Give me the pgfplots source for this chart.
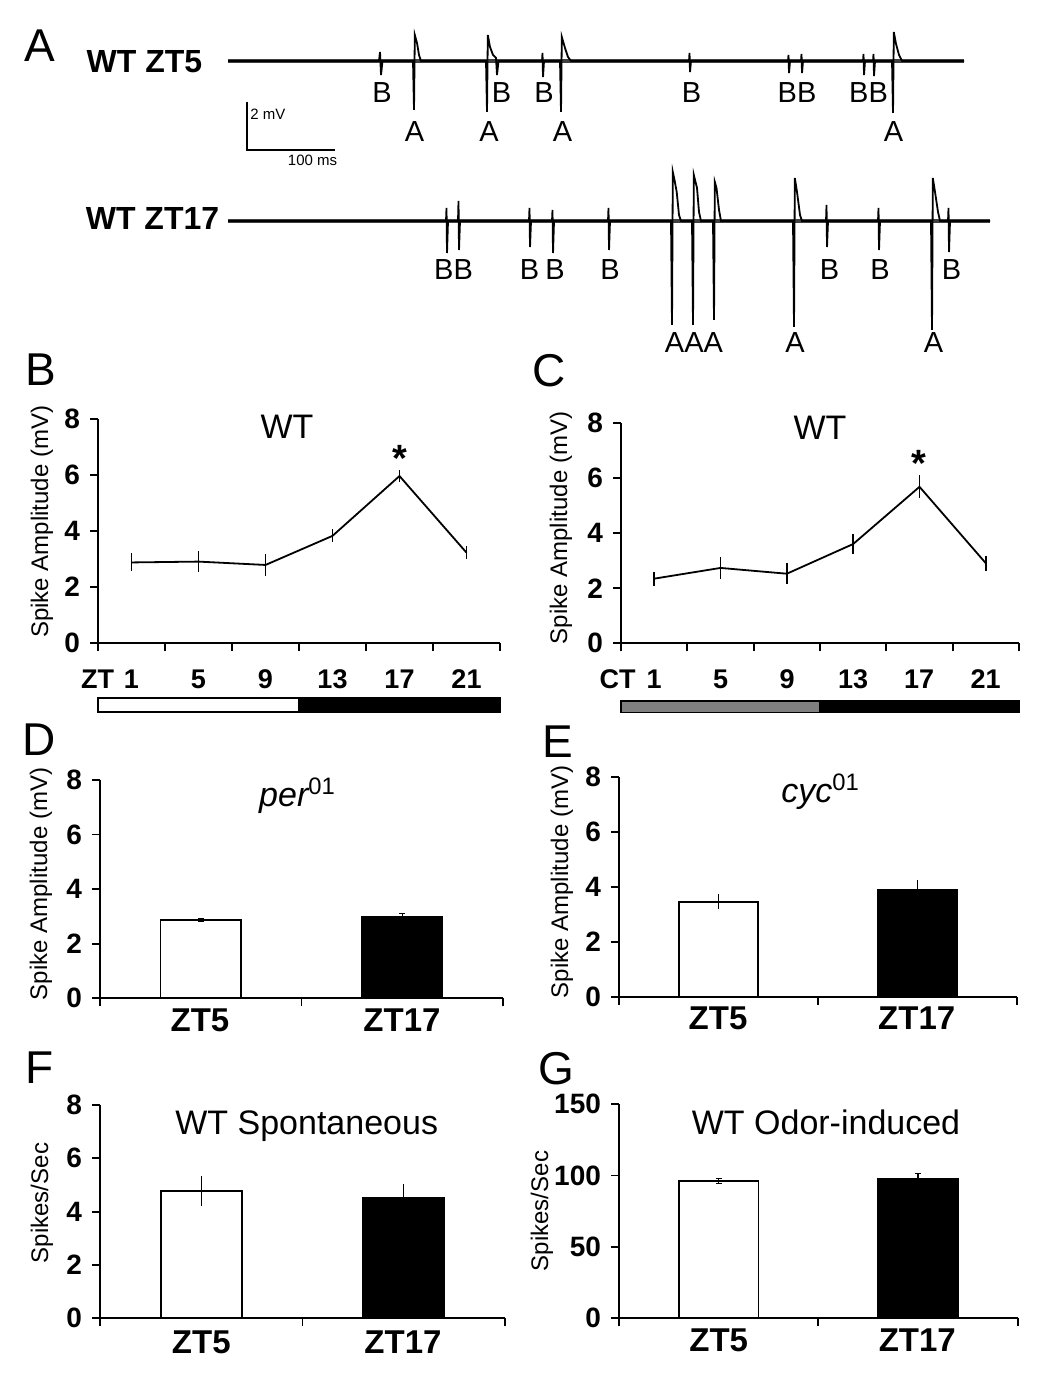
\documentclass[border=0pt]{standalone}
\usepackage{fontspec}
\setmainfont{Liberation Sans}
\usepackage{pgfplots}
\pgfplotsset{compat=1.18}
\begin{document}
\begin{tikzpicture}
\useasboundingbox (0,0) rectangle (525pt,700pt);
\pgfplotsset{
  panel/.style={scale only axis, anchor=south west, axis lines*=left,
    axis line style={line width=0.9pt, black},
    tick style={line width=0.9pt, black},
    tick align=outside, major tick length=4pt, ymin=0, xmin=0, clip=false,
    yticklabel style={font=\bfseries\fontsize{14}{14}\selectfont, xshift=-1.5pt},
    /pgf/number format/assume math mode=true,
    xticklabels={}},
  lineerr/.style={black, line width=0.9pt, mark=none,
    error bars/.cd, y dir=both, y explicit, error mark=none,
    error bar style={line width=0.7pt, black}},
  barw/.style={ybar, bar width=0.4, bar shift=0pt, fill=white, draw=black, line width=0.9pt},
  barb/.style={ybar, bar width=0.4, bar shift=0pt, fill=black, draw=black, line width=0.9pt},
}
\newcommand{\tl}{\bfseries\fontsize{13.5}{14}\selectfont}

% ---------------- Panel A: traces ----------------
\begin{axis}[scale only axis, anchor=north west, at={(0pt,700pt)},
  width=525pt, height=180pt, xmin=0, xmax=1050, ymin=0, ymax=360,
  y dir=reverse, hide axis, clip=false]
% ZT5 baseline
\addplot[black!75, line width=2.3pt] coordinates {(228,61) (964,61)};
% ZT5 spikes
\addplot[black, line width=0.9pt] coordinates {
(228,61) (379,61) (380,52) (381,75) (382.5,61)
(413,61) (414,110) (414.8,35) (417,43) (419,55) (421,61)
(486,61) (487,112) (487.8,35) (490,47) (493,55) (496,58) (497,75) (498.5,61)
(542,61) (542.5,53) (543,77) (544,61)
(560,61) (561,112) (561.8,37) (565,48) (568,57) (571,61)
(689,61) (689.5,53) (690,72) (691,61)
(788,61) (788.5,55) (789,73) (790,61)
(801,61) (801.5,54) (802,73) (803,61)
(863,61) (863.5,54) (864,75) (865,61)
(873,61) (873.5,54) (874,76) (875,61)
(892,61) (893,113) (893.8,32) (896,44) (899,55) (902,61) (964,61)};
% ZT17 baseline
\addplot[black!75, line width=2.3pt] coordinates {(228,221) (990,221)};
% ZT17 spikes
\addplot[black, line width=0.9pt] coordinates {
(228,221) (446,221) (446.5,208) (447,253) (448,221)
(458,221) (458.5,201) (459,250) (460,221)
(529,221) (529.5,208) (530,247) (531,221)
(552,221) (552.5,210) (553,253) (554,221)
(608,221) (608.5,208) (609,250) (610,221)
(671,221) (672,325) (672.8,172) (674.5,180) (676.7,192) (679,215) (681,221)
(692,221) (693,325) (693.8,175) (695.5,182) (697,188) (699,212) (701,221)
(713,221) (714,320) (714.8,182) (716.5,188) (719,210) (721,221)
(793,221) (794,327) (794.8,178) (797,192) (800,215) (802,221)
(826,221) (826.5,205) (827,247) (828,221)
(878,221) (878.5,208) (879,250) (880,221)
(931,221) (932,330) (932.8,178) (935,192) (938,212) (940,221)
(948,221) (948.5,208) (949,252) (950,221) (990,221)};
% scale bar
\addplot[black, line width=0.6pt] coordinates {(247,102) (247,150) (335,150)};
\end{axis}

% ---------------- Panel B ----------------
\begin{axis}[panel, at={(49pt,378.65pt)}, width=201pt, height=111.85pt,
  xmax=6, ymax=8, xtick={0,1,...,6}, ytick={0,2,4,6,8}]
\addplot[lineerr] coordinates {
(0.5,2.87) +- (0,0.32)
(1.5,2.90) +- (0,0.38)
(2.5,2.78) +- (0,0.40)
(3.5,3.82) +- (0,0.23)
(4.5,5.96) +- (0,0.23)
(5.5,3.22) +- (0,0.24)};
\draw[fill=white, line width=0.8pt] (axis cs:0,-1.98) rectangle (axis cs:3,-2.48);
\draw[fill=black, line width=0.8pt] (axis cs:3,-1.98) rectangle (axis cs:6,-2.48);
\end{axis}

% ---------------- Panel C ----------------
\begin{axis}[panel, at={(310.5pt,378.35pt)}, width=199pt, height=110pt,
  xmax=6, ymax=8, xtick={0,1,...,6}, ytick={0,2,4,6,8}]
\addplot[lineerr] coordinates {
(0.5,2.35) +- (0,0.25)
(1.5,2.74) +- (0,0.39)
(2.5,2.53) +- (0,0.39)
(3.5,3.61) +- (0,0.36)
(4.5,5.69) +- (0,0.42)
(5.5,2.91) +- (0,0.28)};
\draw[fill=gray, line width=0.8pt] (axis cs:0,-2.09) rectangle (axis cs:3,-2.52);
\draw[fill=black, line width=0.8pt] (axis cs:3,-2.09) rectangle (axis cs:6,-2.52);
\end{axis}

% ---------------- Panel D ----------------
\begin{axis}[panel, at={(50pt,200.85pt)}, width=201.5pt, height=109.15pt,
  xmax=2, ymax=8, xtick={0,1,2}, ytick={0,2,4,6,8}]
\addplot[barw, error bars/.cd, y dir=both, y explicit,
  error bar style={line width=0.6pt, black}, error mark options={rotate=90, mark size=1.5pt, line width=0.6pt}]
  coordinates {(0.5,2.87) +- (0,0.05)};
\addplot[barb, error bars/.cd, y dir=both, y explicit,
  error bar style={line width=0.6pt, black}, error mark options={rotate=90, mark size=1.5pt, line width=0.6pt}]
  coordinates {(1.5,2.97) +- (0,0.14)};
\end{axis}

% ---------------- Panel E ----------------
\begin{axis}[panel, at={(309.5pt,201.65pt)}, width=198.85pt, height=109.7pt,
  xmax=2, ymax=8, xtick={0,1,2}, ytick={0,2,4,6,8}]
\addplot[barw, error bars/.cd, y dir=both, y explicit, error mark=none,
  error bar style={line width=0.7pt, black}]
  coordinates {(0.5,3.46) +- (0,0.27)};
\addplot[barb, error bars/.cd, y dir=both, y explicit, error mark=none,
  error bar style={line width=0.7pt, black}]
  coordinates {(1.5,3.90) +- (0,0.35)};
\end{axis}

% ---------------- Panel F ----------------
\begin{axis}[panel, at={(50pt,40.85pt)}, width=202.5pt, height=106.65pt,
  xmax=2, ymax=8, xtick={0,1,2}, ytick={0,2,4,6,8}]
\addplot[barw, error bars/.cd, y dir=both, y explicit, error mark=none,
  error bar style={line width=0.7pt, black}]
  coordinates {(0.5,4.78) +- (0,0.56)};
\addplot[barb, error bars/.cd, y dir=both, y explicit, error mark=none,
  error bar style={line width=0.7pt, black}]
  coordinates {(1.5,4.52) +- (0,0.50)};
\end{axis}

% ---------------- Panel G ----------------
\begin{axis}[panel, at={(309.5pt,40.85pt)}, width=199.35pt, height=107.15pt,
  xmax=2, ymax=150, xtick={0,1,2}, ytick={0,50,100,150}]
\addplot[barw, error bars/.cd, y dir=both, y explicit,
  error bar style={line width=0.6pt, black}, error mark options={rotate=90, mark size=1.5pt, line width=0.6pt}]
  coordinates {(0.5,96.1) +- (0,1.5)};
\addplot[barb, error bars/.cd, y dir=both, y explicit,
  error bar style={line width=0.6pt, black}, error mark options={rotate=90, mark size=1.5pt, line width=0.6pt}]
  coordinates {(1.5,97.5) +- (0,4.0)};
\end{axis}

% ---------------- Global text (pixel coordinates) ----------------
\begin{scope}[x=0.5pt, y=-0.5pt, yshift=700pt]
\tikzset{pl/.style={font=\fontsize{23}{23}\selectfont, inner sep=0pt},
  tr/.style={font=\fontsize{14.5}{15}\selectfont, anchor=base, inner sep=0pt},
  yl/.style={font=\fontsize{12}{12}\selectfont, rotate=90, inner sep=0pt},
  ti/.style={font=\fontsize{17}{18}\selectfont, anchor=base, inner sep=0pt},
  bl/.style={font=\bfseries\fontsize{16.5}{17}\selectfont, anchor=base, inner sep=0pt},
  xl/.style={font=\tl, anchor=base, inner sep=0pt}}
% panel letters
\node[pl] at (40,46) {A};
\node[pl] at (41,370) {B};
\node[pl] at (549,371) {C};
\node[pl] at (39,740) {D};
\node[pl] at (557.5,742) {E};
\node[pl] at (39.5,1068) {F};
\node[pl] at (556.5,1068.5) {G};
% trace names
\node[font=\bfseries\fontsize{16}{16}\selectfont, anchor=base, inner sep=0pt] at (144.5,73) {WT ZT5};
\node[font=\bfseries\fontsize{16}{16}\selectfont, anchor=base, inner sep=0pt] at (152.5,230) {WT ZT17};
% scale bar labels
\node[font=\fontsize{7.5}{8}\selectfont, anchor=west, inner sep=0pt] at (250,114) {2 mV};
\node[font=\fontsize{7.5}{8}\selectfont, inner sep=0pt] at (312.5,160) {100 ms};
% ZT5 spike labels
\node[tr] at (382,103) {B};
\node[tr] at (501.5,103) {B};
\node[tr] at (544,103) {B};
\node[tr] at (691.5,103) {B};
\node[tr] at (797,103) {BB};
\node[tr] at (868.5,103) {BB};
\node[tr] at (414.5,142) {A};
\node[tr] at (489,142) {A};
\node[tr] at (562.5,142) {A};
\node[tr] at (893.5,142) {A};
% ZT17 spike labels
\node[tr] at (453.5,280) {BB};
\node[tr] at (529.5,280) {B};
\node[tr] at (555,280) {B};
\node[tr] at (610,280) {B};
\node[tr] at (829.5,280) {B};
\node[tr] at (880,280) {B};
\node[tr] at (951.5,280) {B};
\node[tr] at (694,353) {AAA};
\node[tr] at (795,353) {A};
\node[tr] at (933.5,353) {A};
% time axis labels B and C
\node[xl] at (97.5,689) {ZT};
\node[xl] at (131.5,689) {1};
\node[xl] at (198.5,689) {5};
\node[xl] at (265.5,689) {9};
\node[xl] at (332.5,689) {13};
\node[xl] at (399.5,689) {17};
\node[xl] at (466.5,689) {21};
\node[xl] at (617.5,689) {CT};
\node[xl] at (654,689) {1};
\node[xl] at (720.5,689) {5};
\node[xl] at (787,689) {9};
\node[xl] at (853,689) {13};
\node[xl] at (919,689) {17};
\node[xl] at (985.5,689) {21};
% bar category labels
\node[bl] at (200,1031.7) {ZT5};
\node[bl] at (402,1031.7) {ZT17};
\node[bl] at (718,1030) {ZT5};
\node[bl] at (916.7,1030) {ZT17};
\node[bl] at (201.3,1353.3) {ZT5};
\node[bl] at (403,1353.3) {ZT17};
\node[bl] at (718.7,1351.7) {ZT5};
\node[bl] at (917.3,1351.7) {ZT17};
% y labels
\node[yl] at (42,521.7) {Spike Amplitude (mV)};
\node[yl] at (561,528) {Spike Amplitude (mV)};
\node[yl] at (41,884) {Spike Amplitude (mV)};
\node[yl] at (562,882) {Spike Amplitude (mV)};
\node[yl] at (42,1203) {Spikes/Sec};
\node[yl] at (542,1211) {Spikes/Sec};
% titles
\node[ti] at (287,438.3) {WT};
\node[ti] at (820,440) {WT};
\node[ti] at (297.5,807) {\itshape per\textsuperscript{\upshape 01}};
\node[ti] at (820.5,803) {\itshape cyc\textsuperscript{\upshape 01}};
\node[ti] at (306.7,1135) {WT Spontaneous};
\node[ti] at (826,1135) {WT Odor-induced};
% asterisks
\node[font=\bfseries\fontsize{19}{19}\selectfont, anchor=base, inner sep=0pt] at (400,472) {*};
\node[font=\bfseries\fontsize{19}{19}\selectfont, anchor=base, inner sep=0pt] at (919,477) {*};
\end{scope}
\end{tikzpicture}
\end{document}
